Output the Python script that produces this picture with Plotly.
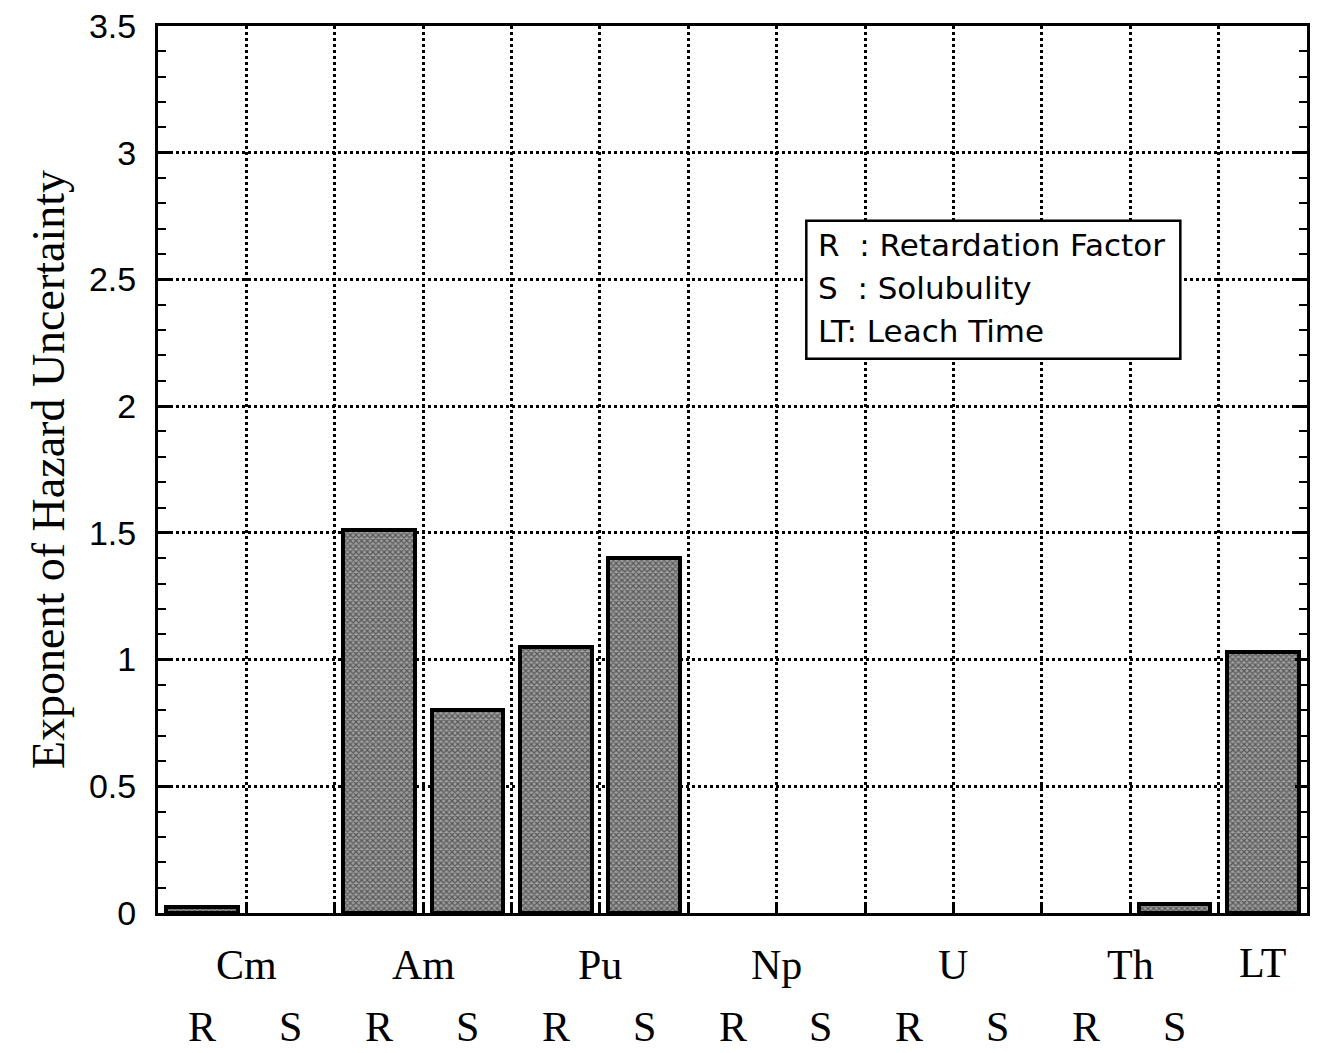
import plotly.graph_objects as go

# Hazard-uncertainty exponents per parameter (R = retardation, S = solubility, LT = leach time)
elements = ["Cm", "Am", "Pu", "Np", "U", "Th"]
params = ["R", "S"]
bar_values = [0.025, 0.0,    # Cm R, S
              1.51, 0.80,    # Am R, S
              1.05, 1.40,    # Pu R, S
              0.0, 0.0,      # Np R, S
              0.0, 0.0,      # U R, S
              0.0, 0.035,    # Th R, S
              1.03]          # LT
legend_lines = ["R  : Retardation Factor", "S  : Solubulity", "LT: Leach Time"]
y_title = "Exponent of Hazard Uncertainty"

x_pos = list(range(len(bar_values)))
# zero-valued parameters get no bar at all
y_plot = [v if v > 0 else None for v in bar_values]
serif = "Liberation Serif, Times New Roman, serif"
sans = "Liberation Sans, Arial, sans-serif"

fig = go.Figure()
fig.add_trace(go.Bar(
    x=x_pos, y=y_plot, width=0.81,
    marker=dict(
        color="#666666",
        line=dict(color="black", width=4),
        pattern=dict(shape="x", size=4, solidity=0.55, fgcolor="#111111", bgcolor="#a0a0a0"),
    ),
    showlegend=False, hoverinfo="skip",
))

fig.update_layout(
    width=1317, height=1053,
    margin=dict(l=158, r=7, t=25, b=140),
    paper_bgcolor="white", plot_bgcolor="white",
    bargap=0.0,
)

fig.update_xaxes(
    range=[-0.5, len(bar_values) - 0.5],
    tickvals=[i + 0.5 for i in range(len(bar_values) - 1)],
    showticklabels=False,
    ticks="inside", ticklen=10, tickwidth=3, tickcolor="black",
    showgrid=True, gridcolor="black", gridwidth=2.5, griddash="dot",
    showline=True, linecolor="black", linewidth=3, mirror=True,
    zeroline=False,
)
fig.update_yaxes(
    range=[0, 3.5], dtick=0.5, tick0=0,
    ticks="inside", ticklen=12, tickwidth=3, tickcolor="black",
    tickfont=dict(family=sans, size=34, color="black"),
    ticklabelstandoff=12,
    minor=dict(dtick=0.1, ticks="inside", ticklen=8, tickwidth=2, tickcolor="black", showgrid=False),
    showgrid=True, gridcolor="black", gridwidth=2.5, griddash="dot",
    showline=True, linecolor="black", linewidth=3, mirror="ticks",
    zeroline=False,
    title=dict(text=y_title, font=dict(family=serif, size=46, color="black"), standoff=10),
)

# Category labels below the axis: element names over R/S pairs, then R/S per bar
label_font = dict(family=serif, size=42, color="black")
for i, el in enumerate(elements):
    fig.add_annotation(x=2 * i + 0.5, y=0, xref="x", yref="paper", yanchor="middle",
                       yshift=-52, text=el, showarrow=False, font=label_font)
    for j, p in enumerate(params):
        fig.add_annotation(x=2 * i + j, y=0, xref="x", yref="paper", yanchor="middle",
                           yshift=-114, text=p, showarrow=False, font=label_font)
fig.add_annotation(x=len(bar_values) - 1, y=0, xref="x", yref="paper", yanchor="middle",
                   yshift=-50, text="LT", showarrow=False, font=label_font)

# Key box
fig.add_shape(type="rect", xref="paper", yref="paper",
              x0=(808 - 158) / (1310 - 158), x1=(1183 - 158) / (1310 - 158),
              y0=(913 - 358) / (913 - 25), y1=(913 - 220) / (913 - 25),
              line=dict(color="black", width=2.5), fillcolor="white", layer="above")
for k, line in enumerate(legend_lines):
    fig.add_annotation(x=(818 - 158) / (1310 - 158), xref="paper", xanchor="left",
                       y=(913 - (244 + 43 * k)) / (913 - 25), yref="paper", yanchor="middle",
                       text=line, showarrow=False,
                       font=dict(family="DejaVu Sans, sans-serif", size=31, color="black"))

fig.write_html("out.html")
